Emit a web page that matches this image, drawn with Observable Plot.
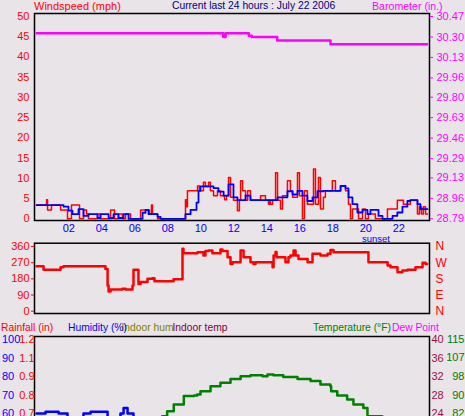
<!DOCTYPE html>
<html><head><meta charset="utf-8">
<script src="https://cdn.jsdelivr.net/npm/d3@7"></script>
<script src="https://cdn.jsdelivr.net/npm/@observablehq/plot@0.6"></script>
<style>
html,body{margin:0;padding:0;background:#E8E4E8;overflow:hidden}
#wrap{position:relative;width:465px;height:416px;overflow:hidden;background:#E8E4E8;font-family:Arial,"Liberation Sans",sans-serif}
#wrap svg{position:absolute;left:0;top:0;background:transparent}
.lbl{position:absolute;white-space:nowrap;font-size:11px;line-height:12px;height:12px}
</style></head><body><div id="wrap"></div>
<script>
// ---------- data (hour of day, value) ----------
const windSpeed = [[0.04,3.4],[0.65,4.7],[0.71,2.2],[0.95,3.4],[1.50,2.2],[1.92,0],[2.16,3.4],[2.65,0],[2.89,2.2],[3.07,1.2],[3.19,0],[3.74,1.2],[3.92,0],[4.53,2.2],[4.77,0],[5.01,1.2],[5.25,0],[5.44,1.2],[5.74,0],[6.35,2.2],[6.89,1.2],[7.01,3.4],[7.07,1.2],[7.38,0],[9.07,4.7],[9.13,3.0],[9.19,6.9],[9.80,8.1],[9.92,6.9],[10.16,9.0],[10.28,8.0],[10.47,9.0],[10.58,6.9],[10.77,5.7],[11.01,6.9],[11.19,5.7],[11.44,4.7],[11.56,5.7],[11.68,10.2],[11.80,5.3],[11.98,4.6],[12.22,2.0],[12.34,4.6],[12.41,9.4],[12.53,6.9],[12.71,4.6],[12.84,6.9],[13.01,4.6],[13.62,5.7],[13.92,4.6],[14.10,3.6],[14.16,4.6],[14.22,3.6],[14.35,4.6],[14.53,11.4],[14.65,4.6],[14.83,2.4],[14.95,5.7],[15.25,9.4],[15.43,6.9],[15.56,5.3],[15.86,11.4],[15.98,5.7],[16.16,0],[16.28,6.9],[16.46,3.6],[16.83,12.3],[16.95,3.6],[17.13,10.2],[17.25,2.4],[17.43,5.3],[17.55,6.9],[17.97,9.4],[18.16,6.9],[18.47,8.1],[18.77,6.9],[18.95,3.6],[19.07,0],[19.19,2.4],[19.56,0],[19.80,2.4],[19.98,0],[20.16,1.2],[20.58,0],[21.31,2.4],[21.91,4.6],[22.28,3.6],[22.70,4.6],[23.13,1.2],[23.25,3.0],[23.37,1.2],[23.49,3.0],[23.62,1.2],[23.74,1.2]];
const windAvg = [[0.04,3.4],[1.68,3.0],[1.98,2.0],[2.22,1.15],[2.59,2.4],[2.89,0.7],[3.19,1.15],[3.74,0.2],[3.92,1.15],[4.41,0.2],[4.71,1.15],[5.01,0.2],[5.32,1.15],[5.62,0],[6.47,1.5],[6.65,2.2],[6.83,1.15],[7.38,0.5],[7.56,0],[9.07,1.15],[9.38,2.2],[9.74,4.0],[9.86,6.9],[9.98,8.0],[10.77,7.6],[11.07,6.7],[11.38,5.7],[11.68,8.5],[11.98,5.3],[12.22,4.6],[12.71,5.7],[13.01,4.6],[14.65,5.3],[15.25,6.8],[15.56,6.0],[15.86,6.9],[16.16,5.7],[16.46,4.4],[16.77,5.3],[17.07,6.8],[17.43,6.9],[18.47,8.1],[18.77,7.5],[18.95,5.3],[19.19,3.6],[19.49,1.55],[19.80,2.2],[20.10,1.15],[20.28,2.2],[20.77,0.7],[21.01,0],[21.62,0.7],[21.91,1.55],[22.22,3.0],[22.52,4.4],[22.70,4.6],[23.13,3.6],[23.31,2.4],[23.74,2.4]];
const barometer = [[0.04,30.33],[11.36,30.30],[11.50,30.33],[12.91,30.31],[13.09,30.30],[14.63,30.27],[17.86,30.24],[23.72,30.24]];
const windDir = [[0.04,250],[0.47,230],[1.50,245],[1.68,250],[4.22,235],[4.35,143],[4.41,110],[4.53,121],[5.25,125],[5.44,121],[5.86,143],[5.92,230],[6.22,152],[6.35,162],[6.77,180],[7.07,183],[7.19,167],[8.35,178],[8.89,347],[8.95,323],[9.80,328],[10.16,310],[10.28,335],[10.47,338],[10.70,323],[11.19,343],[11.31,335],[11.62,300],[11.80,263],[11.92,272],[12.41,338],[12.59,300],[13.01,272],[13.19,263],[13.32,272],[14.35,245],[14.41,310],[14.53,330],[14.59,300],[15.13,272],[15.31,300],[15.43,310],[15.62,338],[15.74,310],[15.92,291],[16.47,272],[16.77,319],[17.25,310],[17.68,319],[17.86,341],[18.04,328],[20.16,272],[21.32,254],[21.50,245],[21.92,217],[22.22,226],[22.53,230],[23.01,245],[23.44,269],[23.62,263],[23.72,263]];
const humidity = [[0.04,60],[0.59,61],[1.38,60],[1.92,57],[2.89,60],[3.32,61],[4.35,57],[5.13,60],[5.32,63],[5.56,60],[5.92,57],[7.0,50],[9.0,40],[12.0,30],[15.0,27],[18.0,30],[21.0,42],[23.72,48]];
const temperature = [[7.30,78],[7.66,80.8],[7.96,83.0],[8.36,86.1],[8.97,89.9],[9.60,90.2],[9.78,90.6],[9.98,92.1],[10.59,94.4],[11.19,95.9],[11.80,97.7],[12.41,98.9],[13.01,99.3],[13.74,98.9],[14.04,99.7],[14.40,99.3],[15.00,98.6],[15.86,97.7],[16.65,96.7],[17.25,95.2],[17.85,94.4],[17.90,92.1],[18.27,90.2],[18.87,88.4],[19.25,86.1],[19.85,84.5],[20.10,80.8],[21.0,76],[23.72,72]];

// ---------- tick labels ----------
const hourTicks = [2,4,6,8,10,12,14,16,18,20,22];
const windTicks = [0,5,10,15,20,25,30,35,40,45,50];
const baroTicks = [28.79,28.96,29.13,29.29,29.46,29.63,29.80,29.96,30.13,30.30,30.47];
const dirTicks = [0,90,180,270,360];
const compassLabels = ["N","E","S","W","N"];
const humTicks = [100,90,80,70,60];
const rainLabels = ["1.2","1.1","0.9","0.8","0.7"];
const tempTicks = [115.6,107.2,98.8,90.4,82.0];
const dewTicks = [40,36,32,28,24];

const W = 465, H = 416, HB = 560;
const xDomain = [-0.08, 23.86];
const font = 'Arial, "Liberation Sans", sans-serif';
const base = (h) => ({width: W, height: h, style: {background: "transparent", fontFamily: font, fontSize: "11px", overflow: "visible"},
  x: {domain: xDomain, label: null, axis: null}, marginLeft: 34, marginRight: 36});
const yScale = (domain) => ({domain, label: null, axis: null});
const pt = (arr) => arr.map(([h, v]) => ({h, v}));
const wrap = document.getElementById("wrap");
const add = (el) => wrap.appendChild(el);

// Panel 1: wind speed
add(Plot.plot({...base(H), marginTop: 13, marginBottom: H - 220,
  y: yScale([-0.42, 50.7]),
  marks: [
    Plot.frame({stroke: "black", strokeWidth: 1.5}),
    Plot.axisY(windTicks, {anchor: "left", tickSize: 0, tickPadding: 5, color: "red", label: null}),
    Plot.axisX(hourTicks, {anchor: "bottom", tickSize: 0, tickPadding: 4, color: "blue", label: null, tickFormat: d => String(d).padStart(2, "0")}),
    Plot.line(pt(windSpeed), {x: "h", y: "v", curve: "step-after", stroke: "red", strokeWidth: 1.5}),
    Plot.line(pt(windAvg), {x: "h", y: "v", curve: "step-after", stroke: "blue", strokeWidth: 1.8})
  ]}));

// Panel 1 overlay: barometer
add(Plot.plot({...base(H), marginTop: 13, marginBottom: H - 220,
  y: yScale([28.776, 30.495]),
  marks: [
    Plot.axisY(baroTicks, {anchor: "right", tickSize: 3, tickPadding: 4, color: "magenta", label: null, tickFormat: d3.format(".2f")}),
    Plot.line(pt(barometer), {x: "h", y: "v", curve: "step-after", stroke: "magenta", strokeWidth: 2.5})
  ]}));

// Panel 2: wind direction
add(Plot.plot({...base(H), marginTop: 242.7, marginBottom: H - 313,
  y: yScale([-12.8, 378.4]),
  marks: [
    Plot.frame({stroke: "black", strokeWidth: 1.5}),
    Plot.axisY(dirTicks, {anchor: "left", tickSize: 3, tickPadding: 2, color: "red", label: null}),
    Plot.axisY(dirTicks, {anchor: "right", tickSize: 0, tickPadding: 6, color: "red", label: null, fontSize: 12, tickFormat: (d) => compassLabels[dirTicks.indexOf(d)]}),
    Plot.line(pt(windDir), {x: "h", y: "v", curve: "step-after", stroke: "red", strokeWidth: 2.5})
  ]}));

// Panel 3: humidity (+ rainfall labels)
add(Plot.plot({...base(HB), marginTop: 336, marginBottom: HB - 527,
  y: yScale([-1.6, 101.6]),
  marks: [
    Plot.frame({stroke: "black", strokeWidth: 1.5}),
    Plot.text(humTicks, {y: d => d, text: d => String(d), frameAnchor: "left", dx: -32.5, textAnchor: "start", fill: "blue"}),
    Plot.text(humTicks, {y: d => d, text: (d, i) => rainLabels[i], frameAnchor: "left", dx: 0, textAnchor: "end", fill: "red"}),
    Plot.line(pt(humidity), {x: "h", y: "v", curve: "step-after", stroke: "blue", strokeWidth: 2.5})
  ]}));

// Panel 3 overlay: temperature
add(Plot.plot({...base(HB), marginTop: 336, marginBottom: HB - 527,
  y: yScale([30.26, 116.94]),
  marks: [
    Plot.text(tempTicks, {y: d => d, text: d => String(Math.floor(d)), frameAnchor: "right", dx: 35, textAnchor: "end", fill: "green"}),
    Plot.line(pt(temperature), {x: "h", y: "v", curve: "step-after", stroke: "green", strokeWidth: 2.5})
  ]}));

// Panel 3 overlay: dew point axis
add(Plot.plot({...base(HB), marginTop: 336, marginBottom: HB - 527,
  y: yScale([-0.64, 40.64]),
  marks: [
    Plot.text(dewTicks, {y: d => d, text: d => String(d), frameAnchor: "right", dx: 2, textAnchor: "start", fill: "#A0104A"})
  ]}));

// text labels
const labels = [
  ["Windspeed (mph)", 34, 6, "red", 11],
  ["Current last 24 hours : July 22 2006", 172, 6, "#000080", 10.3],
  ["Barometer (in.)", 372, 6, "magenta", 10.6],
  ["sunset", 362, 238.5, "blue", 9.5],
  ["Rainfall (in)", 1, 327.5, "red", 10.3],
  ["Indoor hum", 121.5, 327.5, "#808000", 10.3],
  ["Humidity (%)", 68, 327.5, "blue", 10.3],
  ["Indoor temp", 172.5, 327.5, "#800040", 10.3],
  ["Temperature (°F)", 313, 327.5, "green", 10.3],
  ["Dew Point", 392, 327.5, "magenta", 10.3]
];
for (const [t, x, y, c, fs] of labels) {
  const d = document.createElement("div");
  d.className = "lbl"; d.textContent = t;
  d.style.left = x + "px"; d.style.top = (y - 6) + "px"; d.style.color = c; d.style.fontSize = fs + "px";
  add(d);
}
</script></body></html>
